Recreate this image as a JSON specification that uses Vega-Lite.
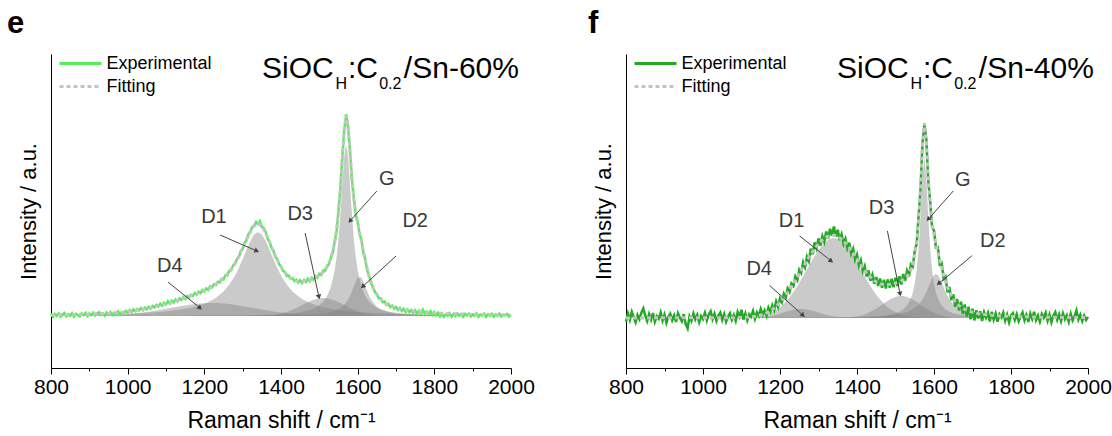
{
"$schema": "https://vega.github.io/schema/vega-lite/v6.json",
"background": "white",
"padding": {"left": 7, "top": 7, "right": 5, "bottom": 2},
"bounds": "flush",
"spacing": 115,
"config": {"font": "Liberation Sans", "view": {"stroke": null}},
"resolve": {"scale": {"color": "independent", "strokeDash": "independent"}, "legend": {"color": "independent", "strokeDash": "independent"}},
"datasets": {
"e_exp": [
{"x":800,"y":0.012},{"x":805,"y":-0.004},{"x":810,"y":0.010},{"x":815,"y":0.001},{"x":820,"y":0.013},{"x":825,"y":-0.003},{"x":830,"y":0.006},{"x":835,"y":0.015},{"x":840,"y":-0.002},{"x":845,"y":0.009},
{"x":850,"y":0.001},{"x":855,"y":0.014},{"x":860,"y":-0.003},{"x":865,"y":0.011},{"x":870,"y":0.004},{"x":875,"y":-0.002},{"x":880,"y":0.013},{"x":885,"y":0.005},{"x":890,"y":0.016},{"x":895,"y":0.000},
{"x":900,"y":0.012},{"x":905,"y":0.004},{"x":910,"y":0.017},{"x":915,"y":0.003},{"x":920,"y":0.010},{"x":925,"y":0.019},{"x":930,"y":0.005},{"x":935,"y":0.013},{"x":940,"y":0.002},{"x":945,"y":0.018},
{"x":950,"y":0.009},{"x":955,"y":0.020},{"x":960,"y":0.006},{"x":965,"y":0.016},{"x":970,"y":0.011},{"x":975,"y":0.023},{"x":980,"y":0.008},{"x":985,"y":0.019},{"x":990,"y":0.014},{"x":995,"y":0.025},
{"x":1000,"y":0.016},{"x":1005,"y":0.030},{"x":1010,"y":0.019},{"x":1015,"y":0.033},{"x":1020,"y":0.024},{"x":1025,"y":0.035},{"x":1030,"y":0.028},{"x":1035,"y":0.040},{"x":1040,"y":0.029},{"x":1045,"y":0.042},
{"x":1050,"y":0.034},{"x":1055,"y":0.046},{"x":1060,"y":0.037},{"x":1065,"y":0.050},{"x":1070,"y":0.043},{"x":1075,"y":0.056},{"x":1080,"y":0.047},{"x":1085,"y":0.061},{"x":1090,"y":0.051},{"x":1095,"y":0.066},
{"x":1100,"y":0.058},{"x":1105,"y":0.074},{"x":1110,"y":0.062},{"x":1115,"y":0.077},{"x":1120,"y":0.068},{"x":1125,"y":0.083},{"x":1130,"y":0.073},{"x":1135,"y":0.088},{"x":1140,"y":0.080},{"x":1145,"y":0.094},
{"x":1150,"y":0.085},{"x":1155,"y":0.099},{"x":1160,"y":0.093},{"x":1165,"y":0.106},{"x":1170,"y":0.100},{"x":1175,"y":0.115},{"x":1180,"y":0.107},{"x":1185,"y":0.121},{"x":1190,"y":0.114},{"x":1195,"y":0.131},
{"x":1200,"y":0.123},{"x":1205,"y":0.138},{"x":1210,"y":0.131},{"x":1215,"y":0.149},{"x":1220,"y":0.143},{"x":1225,"y":0.159},{"x":1230,"y":0.154},{"x":1235,"y":0.171},{"x":1240,"y":0.168},{"x":1245,"y":0.186},
{"x":1250,"y":0.183},{"x":1255,"y":0.204},{"x":1260,"y":0.203},{"x":1265,"y":0.226},{"x":1270,"y":0.228},{"x":1275,"y":0.253},{"x":1280,"y":0.258},{"x":1285,"y":0.285},{"x":1290,"y":0.293},{"x":1295,"y":0.324},
{"x":1300,"y":0.335},{"x":1305,"y":0.366},{"x":1310,"y":0.378},{"x":1315,"y":0.409},{"x":1320,"y":0.419},{"x":1325,"y":0.446},{"x":1330,"y":0.448},{"x":1335,"y":0.470},{"x":1340,"y":0.459},{"x":1345,"y":0.474},
{"x":1350,"y":0.446},{"x":1355,"y":0.441},{"x":1360,"y":0.420},{"x":1365,"y":0.387},{"x":1370,"y":0.372},{"x":1375,"y":0.341},{"x":1380,"y":0.328},{"x":1385,"y":0.297},{"x":1390,"y":0.285},{"x":1395,"y":0.258},
{"x":1400,"y":0.250},{"x":1405,"y":0.226},{"x":1410,"y":0.222},{"x":1415,"y":0.200},{"x":1420,"y":0.203},{"x":1425,"y":0.186},{"x":1430,"y":0.190},{"x":1435,"y":0.174},{"x":1440,"y":0.182},{"x":1445,"y":0.168},
{"x":1450,"y":0.179},{"x":1455,"y":0.165},{"x":1460,"y":0.180},{"x":1465,"y":0.170},{"x":1470,"y":0.186},{"x":1475,"y":0.174},{"x":1480,"y":0.191},{"x":1485,"y":0.181},{"x":1490,"y":0.199},{"x":1495,"y":0.191},
{"x":1500,"y":0.211},{"x":1505,"y":0.205},{"x":1510,"y":0.228},{"x":1515,"y":0.226},{"x":1520,"y":0.251},{"x":1525,"y":0.259},{"x":1530,"y":0.292},{"x":1535,"y":0.318},{"x":1540,"y":0.371},{"x":1545,"y":0.424},
{"x":1550,"y":0.526},{"x":1555,"y":0.636},{"x":1560,"y":0.797},{"x":1565,"y":0.929},{"x":1570,"y":1.008},{"x":1575,"y":0.944},{"x":1580,"y":0.826},{"x":1585,"y":0.682},{"x":1590,"y":0.591},{"x":1595,"y":0.508},
{"x":1600,"y":0.470},{"x":1605,"y":0.411},{"x":1610,"y":0.379},{"x":1615,"y":0.318},{"x":1620,"y":0.281},{"x":1625,"y":0.228},{"x":1630,"y":0.201},{"x":1635,"y":0.163},{"x":1640,"y":0.147},{"x":1645,"y":0.119},
{"x":1650,"y":0.112},{"x":1655,"y":0.088},{"x":1660,"y":0.089},{"x":1665,"y":0.069},{"x":1670,"y":0.073},{"x":1675,"y":0.055},{"x":1680,"y":0.061},{"x":1685,"y":0.044},{"x":1690,"y":0.052},{"x":1695,"y":0.036},
{"x":1700,"y":0.045},{"x":1705,"y":0.030},{"x":1710,"y":0.041},{"x":1715,"y":0.025},{"x":1720,"y":0.036},{"x":1725,"y":0.020},{"x":1730,"y":0.033},{"x":1735,"y":0.019},{"x":1740,"y":0.030},{"x":1745,"y":0.014},
{"x":1750,"y":0.028},{"x":1755,"y":0.012},{"x":1760,"y":0.026},{"x":1765,"y":0.010},{"x":1770,"y":0.031},{"x":1775,"y":0.013},{"x":1780,"y":0.022},{"x":1785,"y":0.008},{"x":1790,"y":0.024},{"x":1795,"y":0.006},
{"x":1800,"y":0.019},{"x":1805,"y":0.004},{"x":1810,"y":0.016},{"x":1815,"y":-0.002},{"x":1820,"y":0.011},{"x":1825,"y":-0.004},{"x":1830,"y":0.009},{"x":1835,"y":0.001},{"x":1840,"y":0.014},{"x":1845,"y":-0.003},
{"x":1850,"y":0.010},{"x":1855,"y":0.000},{"x":1860,"y":0.013},{"x":1865,"y":0.002},{"x":1870,"y":0.009},{"x":1875,"y":-0.004},{"x":1880,"y":0.011},{"x":1885,"y":0.003},{"x":1890,"y":0.012},{"x":1895,"y":-0.002},
{"x":1900,"y":0.008},{"x":1905,"y":0.001},{"x":1910,"y":0.013},{"x":1915,"y":-0.003},{"x":1920,"y":0.007},{"x":1925,"y":0.002},{"x":1930,"y":0.012},{"x":1935,"y":-0.004},{"x":1940,"y":0.009},{"x":1945,"y":0.001},
{"x":1950,"y":0.011},{"x":1955,"y":-0.003},{"x":1960,"y":0.008},{"x":1965,"y":0.000},{"x":1970,"y":0.012},{"x":1975,"y":-0.002},{"x":1980,"y":0.007},{"x":1985,"y":0.003},{"x":1990,"y":0.010},{"x":1995,"y":-0.003},
{"x":2000,"y":0.006}
],
"e_comp": [
{"x":800,"D4":0,"D1":0.0048,"D3":0,"G":0.0005,"D2":0.0002,"fit":0.0055},
{"x":850,"D4":0.0002,"D1":0.0058,"D3":0,"G":0.0005,"D2":0.0002,"fit":0.0067},
{"x":900,"D4":0.0009,"D1":0.0072,"D3":0,"G":0.0006,"D2":0.0003,"fit":0.009},
{"x":950,"D4":0.0032,"D1":0.0091,"D3":0,"G":0.0007,"D2":0.0003,"fit":0.0133},
{"x":1000,"D4":0.0088,"D1":0.0119,"D3":0,"G":0.0008,"D2":0.0003,"fit":0.0218},
{"x":1010,"D4":0.0105,"D1":0.0126,"D3":0,"G":0.0009,"D2":0.0004,"fit":0.0244},
{"x":1020,"D4":0.0124,"D1":0.0134,"D3":0,"G":0.0009,"D2":0.0004,"fit":0.0271},
{"x":1030,"D4":0.0146,"D1":0.0142,"D3":0,"G":0.0009,"D2":0.0004,"fit":0.0301},
{"x":1040,"D4":0.017,"D1":0.0151,"D3":0,"G":0.001,"D2":0.0004,"fit":0.0335},
{"x":1050,"D4":0.0197,"D1":0.0162,"D3":0,"G":0.001,"D2":0.0004,"fit":0.0373},
{"x":1060,"D4":0.0226,"D1":0.0173,"D3":0,"G":0.001,"D2":0.0005,"fit":0.0414},
{"x":1070,"D4":0.0257,"D1":0.0185,"D3":0,"G":0.0011,"D2":0.0005,"fit":0.0458},
{"x":1080,"D4":0.0289,"D1":0.0199,"D3":0,"G":0.0011,"D2":0.0005,"fit":0.0504},
{"x":1090,"D4":0.0323,"D1":0.0215,"D3":0,"G":0.0012,"D2":0.0005,"fit":0.0555},
{"x":1100,"D4":0.0359,"D1":0.0232,"D3":0,"G":0.0012,"D2":0.0005,"fit":0.0608},
{"x":1110,"D4":0.0394,"D1":0.0251,"D3":0,"G":0.0013,"D2":0.0006,"fit":0.0664},
{"x":1120,"D4":0.043,"D1":0.0273,"D3":0,"G":0.0014,"D2":0.0006,"fit":0.0723},
{"x":1130,"D4":0.0465,"D1":0.0298,"D3":0,"G":0.0015,"D2":0.0006,"fit":0.0784},
{"x":1140,"D4":0.0499,"D1":0.0326,"D3":0,"G":0.0016,"D2":0.0006,"fit":0.0847},
{"x":1150,"D4":0.0531,"D1":0.0358,"D3":0,"G":0.0017,"D2":0.0007,"fit":0.0913},
{"x":1160,"D4":0.056,"D1":0.0395,"D3":0,"G":0.0017,"D2":0.0007,"fit":0.0979},
{"x":1170,"D4":0.0586,"D1":0.0438,"D3":0,"G":0.0018,"D2":0.0007,"fit":0.1049},
{"x":1180,"D4":0.0608,"D1":0.0488,"D3":0,"G":0.0019,"D2":0.0007,"fit":0.1122},
{"x":1190,"D4":0.0626,"D1":0.0546,"D3":0,"G":0.0019,"D2":0.0008,"fit":0.1199},
{"x":1200,"D4":0.064,"D1":0.0615,"D3":0,"G":0.002,"D2":0.0008,"fit":0.1283},
{"x":1210,"D4":0.0647,"D1":0.0697,"D3":0,"G":0.0021,"D2":0.0008,"fit":0.1373},
{"x":1220,"D4":0.065,"D1":0.0795,"D3":0,"G":0.0023,"D2":0.0009,"fit":0.1477},
{"x":1230,"D4":0.0647,"D1":0.0914,"D3":0,"G":0.0024,"D2":0.0009,"fit":0.1594},
{"x":1240,"D4":0.064,"D1":0.106,"D3":0,"G":0.0026,"D2":0.0009,"fit":0.1735},
{"x":1250,"D4":0.0626,"D1":0.123,"D3":0,"G":0.0027,"D2":0.001,"fit":0.1893},
{"x":1260,"D4":0.0608,"D1":0.145,"D3":0,"G":0.0029,"D2":0.001,"fit":0.2097},
{"x":1270,"D4":0.0586,"D1":0.171,"D3":0,"G":0.0031,"D2":0.0011,"fit":0.2338},
{"x":1280,"D4":0.056,"D1":0.203,"D3":0,"G":0.0033,"D2":0.0011,"fit":0.2634},
{"x":1290,"D4":0.0531,"D1":0.241,"D3":0,"G":0.0035,"D2":0.0012,"fit":0.2988},
{"x":1300,"D4":0.0499,"D1":0.285,"D3":0.0001,"G":0.0038,"D2":0.0013,"fit":0.3401},
{"x":1310,"D4":0.0465,"D1":0.331,"D3":0.0001,"G":0.0041,"D2":0.0014,"fit":0.3831},
{"x":1320,"D4":0.043,"D1":0.375,"D3":0.0002,"G":0.0044,"D2":0.0015,"fit":0.4241},
{"x":1330,"D4":0.0394,"D1":0.408,"D3":0.0004,"G":0.0048,"D2":0.0016,"fit":0.4542},
{"x":1340,"D4":0.0359,"D1":0.42,"D3":0.0007,"G":0.0053,"D2":0.0018,"fit":0.4637},
{"x":1350,"D4":0.0323,"D1":0.408,"D3":0.0013,"G":0.0057,"D2":0.0019,"fit":0.4492},
{"x":1360,"D4":0.0289,"D1":0.375,"D3":0.0022,"G":0.0063,"D2":0.002,"fit":0.4144},
{"x":1370,"D4":0.0257,"D1":0.331,"D3":0.0035,"G":0.0069,"D2":0.0022,"fit":0.3693},
{"x":1380,"D4":0.0226,"D1":0.285,"D3":0.0055,"G":0.0077,"D2":0.0024,"fit":0.3232},
{"x":1390,"D4":0.0197,"D1":0.241,"D3":0.0083,"G":0.0085,"D2":0.0027,"fit":0.2802},
{"x":1400,"D4":0.017,"D1":0.203,"D3":0.0122,"G":0.0095,"D2":0.0029,"fit":0.2446},
{"x":1410,"D4":0.0146,"D1":0.171,"D3":0.0172,"G":0.0108,"D2":0.0032,"fit":0.2168},
{"x":1420,"D4":0.0124,"D1":0.145,"D3":0.0236,"G":0.0122,"D2":0.0036,"fit":0.1968},
{"x":1430,"D4":0.0105,"D1":0.123,"D3":0.0312,"G":0.014,"D2":0.004,"fit":0.1827},
{"x":1440,"D4":0.0088,"D1":0.106,"D3":0.04,"G":0.0162,"D2":0.0045,"fit":0.1755},
{"x":1450,"D4":0.0073,"D1":0.0914,"D3":0.0496,"G":0.0189,"D2":0.0051,"fit":0.1723},
{"x":1460,"D4":0.006,"D1":0.0795,"D3":0.0595,"G":0.0224,"D2":0.0058,"fit":0.1732},
{"x":1470,"D4":0.0049,"D1":0.0697,"D3":0.0691,"G":0.027,"D2":0.0066,"fit":0.1773},
{"x":1480,"D4":0.004,"D1":0.0615,"D3":0.0776,"G":0.0331,"D2":0.0077,"fit":0.1839},
{"x":1490,"D4":0.0032,"D1":0.0546,"D3":0.0842,"G":0.0414,"D2":0.009,"fit":0.1924},
{"x":1500,"D4":0.0025,"D1":0.0488,"D3":0.0885,"G":0.0533,"D2":0.0107,"fit":0.2038},
{"x":1510,"D4":0.002,"D1":0.0438,"D3":0.09,"G":0.071,"D2":0.013,"fit":0.2198},
{"x":1520,"D4":0.0016,"D1":0.0395,"D3":0.0885,"G":0.0986,"D2":0.0159,"fit":0.2441},
{"x":1530,"D4":0.0012,"D1":0.0358,"D3":0.0842,"G":0.145,"D2":0.02,"fit":0.2862},
{"x":1540,"D4":0.0009,"D1":0.0326,"D3":0.0776,"G":0.228,"D2":0.0258,"fit":0.3649},
{"x":1545,"D4":0.0008,"D1":0.0312,"D3":0.0735,"G":0.294,"D2":0.0296,"fit":0.4291},
{"x":1550,"D4":0.0007,"D1":0.0298,"D3":0.0691,"G":0.385,"D2":0.0342,"fit":0.5188},
{"x":1555,"D4":0.0006,"D1":0.0285,"D3":0.0644,"G":0.508,"D2":0.04,"fit":0.6415},
{"x":1560,"D4":0.0005,"D1":0.0273,"D3":0.0595,"G":0.657,"D2":0.0472,"fit":0.7915},
{"x":1565,"D4":0.0005,"D1":0.0262,"D3":0.0546,"G":0.798,"D2":0.0562,"fit":0.9355},
{"x":1570,"D4":0.0004,"D1":0.0251,"D3":0.0496,"G":0.86,"D2":0.0676,"fit":1.0027},
{"x":1575,"D4":0.0004,"D1":0.0241,"D3":0.0448,"G":0.798,"D2":0.082,"fit":0.9493},
{"x":1580,"D4":0.0003,"D1":0.0232,"D3":0.04,"G":0.657,"D2":0.1,"fit":0.8205},
{"x":1585,"D4":0.0003,"D1":0.0223,"D3":0.0355,"G":0.508,"D2":0.122,"fit":0.6881},
{"x":1590,"D4":0.0003,"D1":0.0215,"D3":0.0312,"G":0.385,"D2":0.147,"fit":0.585},
{"x":1595,"D4":0.0002,"D1":0.0207,"D3":0.0273,"G":0.294,"D2":0.172,"fit":0.5142},
{"x":1600,"D4":0.0002,"D1":0.0199,"D3":0.0236,"G":0.228,"D2":0.192,"fit":0.4637},
{"x":1610,"D4":0.0001,"D1":0.0185,"D3":0.0172,"G":0.145,"D2":0.192,"fit":0.3728},
{"x":1620,"D4":0.0001,"D1":0.0173,"D3":0.0122,"G":0.0986,"D2":0.147,"fit":0.2752},
{"x":1630,"D4":0,"D1":0.0162,"D3":0.0083,"G":0.071,"D2":0.1,"fit":0.1955},
{"x":1640,"D4":0,"D1":0.0151,"D3":0.0055,"G":0.0533,"D2":0.0676,"fit":0.1415},
{"x":1650,"D4":0,"D1":0.0142,"D3":0.0035,"G":0.0414,"D2":0.0472,"fit":0.1063},
{"x":1660,"D4":0,"D1":0.0134,"D3":0.0022,"G":0.0331,"D2":0.0342,"fit":0.0829},
{"x":1670,"D4":0,"D1":0.0126,"D3":0.0013,"G":0.027,"D2":0.0258,"fit":0.0667},
{"x":1680,"D4":0,"D1":0.0119,"D3":0.0007,"G":0.0224,"D2":0.02,"fit":0.055},
{"x":1690,"D4":0,"D1":0.0112,"D3":0.0004,"G":0.0189,"D2":0.0159,"fit":0.0464},
{"x":1700,"D4":0,"D1":0.0106,"D3":0,"G":0.0162,"D2":0.013,"fit":0.0398},
{"x":1710,"D4":0,"D1":0.0101,"D3":0,"G":0.014,"D2":0.0107,"fit":0.0348},
{"x":1720,"D4":0,"D1":0.0096,"D3":0,"G":0.0122,"D2":0.009,"fit":0.0308},
{"x":1730,"D4":0,"D1":0.0091,"D3":0,"G":0.0108,"D2":0.0077,"fit":0.0276},
{"x":1740,"D4":0,"D1":0.0086,"D3":0,"G":0.0095,"D2":0.0066,"fit":0.0247},
{"x":1750,"D4":0,"D1":0.0082,"D3":0,"G":0.0085,"D2":0.0058,"fit":0.0225},
{"x":1760,"D4":0,"D1":0.0078,"D3":0,"G":0.0077,"D2":0.0051,"fit":0.0206},
{"x":1770,"D4":0,"D1":0.0075,"D3":0,"G":0.0069,"D2":0.0045,"fit":0.0189},
{"x":1780,"D4":0,"D1":0.0072,"D3":0,"G":0.0063,"D2":0.004,"fit":0.0175},
{"x":1790,"D4":0,"D1":0.0069,"D3":0,"G":0.0057,"D2":0.0036,"fit":0.0162},
{"x":1800,"D4":0,"D1":0.0066,"D3":0,"G":0.0053,"D2":0.0032,"fit":0.0151},
{"x":1850,"D4":0,"D1":0.0054,"D3":0,"G":0.0036,"D2":0.0021,"fit":0.0111},
{"x":1900,"D4":0,"D1":0.0045,"D3":0,"G":0.0026,"D2":0.0014,"fit":0.0085},
{"x":1950,"D4":0,"D1":0.0038,"D3":0,"G":0.0019,"D2":0.001,"fit":0.0067},
{"x":2000,"D4":0,"D1":0.0032,"D3":0,"G":0.0015,"D2":0.0008,"fit":0.0055}
],
"f_exp": [
{"x":800,"y":-0.018},{"x":805,"y":0.022},{"x":810,"y":-0.010},{"x":815,"y":0.031},{"x":820,"y":0.004},{"x":825,"y":-0.022},{"x":830,"y":0.015},{"x":835,"y":-0.006},{"x":840,"y":0.027},{"x":845,"y":0.048},
{"x":850,"y":0.012},{"x":855,"y":-0.015},{"x":860,"y":0.020},{"x":865,"y":-0.008},{"x":870,"y":0.025},{"x":875,"y":-0.019},{"x":880,"y":0.009},{"x":885,"y":-0.004},{"x":890,"y":0.028},{"x":895,"y":-0.013},
{"x":900,"y":0.017},{"x":905,"y":-0.024},{"x":910,"y":0.006},{"x":915,"y":0.021},{"x":920,"y":-0.011},{"x":925,"y":0.013},{"x":930,"y":-0.020},{"x":935,"y":0.024},{"x":940,"y":0.001},{"x":945,"y":-0.016},
{"x":950,"y":0.019},{"x":955,"y":-0.030},{"x":960,"y":-0.052},{"x":965,"y":0.008},{"x":970,"y":-0.014},{"x":975,"y":0.022},{"x":980,"y":-0.007},{"x":985,"y":0.016},{"x":990,"y":-0.021},{"x":995,"y":0.010},
{"x":1000,"y":-0.005},{"x":1005,"y":0.026},{"x":1010,"y":-0.012},{"x":1015,"y":0.018},{"x":1020,"y":0.034},{"x":1025,"y":-0.006},{"x":1030,"y":0.021},{"x":1035,"y":-0.015},{"x":1040,"y":0.012},{"x":1045,"y":0.027},
{"x":1050,"y":-0.010},{"x":1055,"y":0.019},{"x":1060,"y":-0.018},{"x":1065,"y":0.008},{"x":1070,"y":0.024},{"x":1075,"y":-0.009},{"x":1080,"y":0.015},{"x":1085,"y":-0.014},{"x":1090,"y":0.030},{"x":1095,"y":0.005},
{"x":1100,"y":0.041},{"x":1105,"y":-0.008},{"x":1110,"y":0.022},{"x":1115,"y":-0.012},{"x":1120,"y":0.018},{"x":1125,"y":0.006},{"x":1130,"y":0.035},{"x":1135,"y":-0.004},{"x":1140,"y":0.028},{"x":1145,"y":0.011},
{"x":1150,"y":0.045},{"x":1155,"y":0.016},{"x":1160,"y":0.038},{"x":1165,"y":0.012},{"x":1170,"y":0.052},{"x":1175,"y":0.031},{"x":1180,"y":0.064},{"x":1185,"y":0.040},{"x":1190,"y":0.083},{"x":1195,"y":0.056},
{"x":1200,"y":0.098},{"x":1205,"y":0.079},{"x":1210,"y":0.121},{"x":1215,"y":0.102},{"x":1220,"y":0.148},{"x":1225,"y":0.131},{"x":1230,"y":0.172},{"x":1235,"y":0.160},{"x":1240,"y":0.208},{"x":1245,"y":0.190},
{"x":1250,"y":0.241},{"x":1255,"y":0.225},{"x":1260,"y":0.279},{"x":1265,"y":0.254},{"x":1270,"y":0.306},{"x":1275,"y":0.284},{"x":1280,"y":0.347},{"x":1285,"y":0.318},{"x":1290,"y":0.378},{"x":1295,"y":0.349},
{"x":1300,"y":0.398},{"x":1305,"y":0.362},{"x":1310,"y":0.409},{"x":1315,"y":0.381},{"x":1320,"y":0.432},{"x":1325,"y":0.398},{"x":1330,"y":0.446},{"x":1335,"y":0.412},{"x":1340,"y":0.458},{"x":1345,"y":0.407},
{"x":1350,"y":0.441},{"x":1355,"y":0.389},{"x":1360,"y":0.418},{"x":1365,"y":0.371},{"x":1370,"y":0.396},{"x":1375,"y":0.349},{"x":1380,"y":0.377},{"x":1385,"y":0.322},{"x":1390,"y":0.346},{"x":1395,"y":0.292},
{"x":1400,"y":0.317},{"x":1405,"y":0.262},{"x":1410,"y":0.289},{"x":1415,"y":0.234},{"x":1420,"y":0.259},{"x":1425,"y":0.207},{"x":1430,"y":0.238},{"x":1435,"y":0.186},{"x":1440,"y":0.216},{"x":1445,"y":0.171},
{"x":1450,"y":0.205},{"x":1455,"y":0.160},{"x":1460,"y":0.197},{"x":1465,"y":0.151},{"x":1470,"y":0.191},{"x":1475,"y":0.148},{"x":1480,"y":0.193},{"x":1485,"y":0.152},{"x":1490,"y":0.196},{"x":1495,"y":0.154},
{"x":1500,"y":0.201},{"x":1505,"y":0.160},{"x":1510,"y":0.209},{"x":1515,"y":0.168},{"x":1520,"y":0.220},{"x":1525,"y":0.185},{"x":1530,"y":0.236},{"x":1535,"y":0.208},{"x":1540,"y":0.268},{"x":1545,"y":0.258},
{"x":1550,"y":0.335},{"x":1555,"y":0.370},{"x":1560,"y":0.508},{"x":1565,"y":0.642},{"x":1570,"y":0.870},{"x":1575,"y":0.968},{"x":1580,"y":0.895},{"x":1585,"y":0.690},{"x":1590,"y":0.583},{"x":1595,"y":0.455},
{"x":1600,"y":0.437},{"x":1605,"y":0.352},{"x":1610,"y":0.354},{"x":1615,"y":0.268},{"x":1620,"y":0.275},{"x":1625,"y":0.195},{"x":1630,"y":0.206},{"x":1635,"y":0.128},{"x":1640,"y":0.155},{"x":1645,"y":0.089},
{"x":1650,"y":0.118},{"x":1655,"y":0.056},{"x":1660,"y":0.095},{"x":1665,"y":0.038},{"x":1670,"y":0.081},{"x":1675,"y":0.020},{"x":1680,"y":0.068},{"x":1685,"y":0.008},{"x":1690,"y":0.056},{"x":1695,"y":-0.006},
{"x":1700,"y":0.047},{"x":1705,"y":-0.012},{"x":1710,"y":0.039},{"x":1715,"y":-0.002},{"x":1720,"y":0.034},{"x":1725,"y":-0.015},{"x":1730,"y":0.029},{"x":1735,"y":0.002},{"x":1740,"y":0.026},{"x":1745,"y":-0.017},
{"x":1750,"y":0.031},{"x":1755,"y":-0.008},{"x":1760,"y":0.022},{"x":1765,"y":-0.019},{"x":1770,"y":0.018},{"x":1775,"y":0.003},{"x":1780,"y":0.027},{"x":1785,"y":-0.014},{"x":1790,"y":0.016},{"x":1795,"y":-0.022},
{"x":1800,"y":0.012},{"x":1805,"y":0.024},{"x":1810,"y":-0.010},{"x":1815,"y":0.019},{"x":1820,"y":-0.016},{"x":1825,"y":0.008},{"x":1830,"y":0.028},{"x":1835,"y":-0.012},{"x":1840,"y":0.015},{"x":1845,"y":-0.020},
{"x":1850,"y":0.022},{"x":1855,"y":-0.004},{"x":1860,"y":0.031},{"x":1865,"y":-0.011},{"x":1870,"y":0.013},{"x":1875,"y":-0.018},{"x":1880,"y":0.020},{"x":1885,"y":0.001},{"x":1890,"y":0.026},{"x":1895,"y":-0.014},
{"x":1900,"y":0.017},{"x":1905,"y":-0.021},{"x":1910,"y":0.011},{"x":1915,"y":0.029},{"x":1920,"y":-0.009},{"x":1925,"y":0.018},{"x":1930,"y":-0.016},{"x":1935,"y":0.023},{"x":1940,"y":-0.006},{"x":1945,"y":0.014},
{"x":1950,"y":-0.019},{"x":1955,"y":0.021},{"x":1960,"y":-0.012},{"x":1965,"y":0.009},{"x":1970,"y":0.038},{"x":1975,"y":-0.008},{"x":1980,"y":0.016},{"x":1985,"y":-0.015},{"x":1990,"y":0.012},{"x":1995,"y":-0.010},
{"x":2000,"y":0.006}
],
"f_comp": [
{"x":800,"D4":0,"D1":0,"D3":0,"G":0.0002,"D2":0.0003,"fit":0.0005},
{"x":850,"D4":0,"D1":0,"D3":0,"G":0.0003,"D2":0.0003,"fit":0.0006},
{"x":900,"D4":0,"D1":0,"D3":0,"G":0.0003,"D2":0.0004,"fit":0.0007},
{"x":950,"D4":0,"D1":0,"D3":0,"G":0.0003,"D2":0.0004,"fit":0.0007},
{"x":1000,"D4":0,"D1":0,"D3":0,"G":0.0004,"D2":0.0005,"fit":0.0009},
{"x":1050,"D4":0,"D1":0.0001,"D3":0,"G":0.0005,"D2":0.0006,"fit":0.0012},
{"x":1080,"D4":0,"D1":0.0004,"D3":0,"G":0.0005,"D2":0.0007,"fit":0.0016},
{"x":1090,"D4":0,"D1":0.0007,"D3":0,"G":0.0006,"D2":0.0007,"fit":0.002},
{"x":1100,"D4":0.0001,"D1":0.0011,"D3":0,"G":0.0006,"D2":0.0008,"fit":0.0026},
{"x":1110,"D4":0.0002,"D1":0.0018,"D3":0,"G":0.0006,"D2":0.0008,"fit":0.0034},
{"x":1120,"D4":0.0005,"D1":0.0029,"D3":0,"G":0.0007,"D2":0.0008,"fit":0.0049},
{"x":1130,"D4":0.001,"D1":0.0044,"D3":0,"G":0.0007,"D2":0.0009,"fit":0.007},
{"x":1140,"D4":0.0017,"D1":0.0067,"D3":0,"G":0.0007,"D2":0.0009,"fit":0.01},
{"x":1150,"D4":0.003,"D1":0.01,"D3":0,"G":0.0008,"D2":0.0009,"fit":0.0147},
{"x":1160,"D4":0.0049,"D1":0.0147,"D3":0,"G":0.0008,"D2":0.001,"fit":0.0214},
{"x":1170,"D4":0.0076,"D1":0.021,"D3":0,"G":0.0009,"D2":0.001,"fit":0.0305},
{"x":1180,"D4":0.0112,"D1":0.0294,"D3":0,"G":0.0009,"D2":0.0011,"fit":0.0426},
{"x":1190,"D4":0.0159,"D1":0.0403,"D3":0,"G":0.001,"D2":0.0011,"fit":0.0583},
{"x":1200,"D4":0.0213,"D1":0.0541,"D3":0,"G":0.001,"D2":0.0012,"fit":0.0776},
{"x":1210,"D4":0.0273,"D1":0.0713,"D3":0,"G":0.001,"D2":0.0013,"fit":0.1009},
{"x":1220,"D4":0.0333,"D1":0.092,"D3":0,"G":0.0011,"D2":0.0013,"fit":0.1277},
{"x":1230,"D4":0.0386,"D1":0.1164,"D3":0,"G":0.0011,"D2":0.0014,"fit":0.1575},
{"x":1240,"D4":0.0426,"D1":0.1442,"D3":0,"G":0.0012,"D2":0.0015,"fit":0.1895},
{"x":1250,"D4":0.0447,"D1":0.175,"D3":0,"G":0.0013,"D2":0.0016,"fit":0.2226},
{"x":1260,"D4":0.0447,"D1":0.2082,"D3":0,"G":0.0014,"D2":0.0017,"fit":0.256},
{"x":1270,"D4":0.0426,"D1":0.2426,"D3":0,"G":0.0015,"D2":0.0018,"fit":0.2885},
{"x":1280,"D4":0.0386,"D1":0.277,"D3":0,"G":0.0016,"D2":0.0019,"fit":0.3191},
{"x":1290,"D4":0.0333,"D1":0.3099,"D3":0,"G":0.0017,"D2":0.002,"fit":0.3469},
{"x":1300,"D4":0.0273,"D1":0.3397,"D3":0,"G":0.0018,"D2":0.0021,"fit":0.3709},
{"x":1310,"D4":0.0213,"D1":0.3649,"D3":0,"G":0.0019,"D2":0.0022,"fit":0.3903},
{"x":1320,"D4":0.0159,"D1":0.384,"D3":0,"G":0.0021,"D2":0.0024,"fit":0.4044},
{"x":1330,"D4":0.0112,"D1":0.3959,"D3":0.0001,"G":0.0023,"D2":0.0026,"fit":0.4121},
{"x":1340,"D4":0.0076,"D1":0.4,"D3":0.0002,"G":0.0025,"D2":0.0028,"fit":0.4131},
{"x":1350,"D4":0.0049,"D1":0.3959,"D3":0.0005,"G":0.0027,"D2":0.003,"fit":0.407},
{"x":1360,"D4":0.003,"D1":0.384,"D3":0.0009,"G":0.003,"D2":0.0032,"fit":0.3941},
{"x":1370,"D4":0.0017,"D1":0.3649,"D3":0.0016,"G":0.0032,"D2":0.0035,"fit":0.3749},
{"x":1380,"D4":0.001,"D1":0.3397,"D3":0.0029,"G":0.0036,"D2":0.0038,"fit":0.351},
{"x":1390,"D4":0.0005,"D1":0.3099,"D3":0.0048,"G":0.004,"D2":0.0042,"fit":0.3234},
{"x":1400,"D4":0.0002,"D1":0.277,"D3":0.0078,"G":0.0044,"D2":0.0046,"fit":0.294},
{"x":1410,"D4":0.0001,"D1":0.2426,"D3":0.0121,"G":0.005,"D2":0.0051,"fit":0.2649},
{"x":1420,"D4":0,"D1":0.2082,"D3":0.0181,"G":0.0057,"D2":0.0056,"fit":0.2376},
{"x":1430,"D4":0,"D1":0.175,"D3":0.0259,"G":0.0065,"D2":0.0063,"fit":0.2137},
{"x":1440,"D4":0,"D1":0.1442,"D3":0.0357,"G":0.0074,"D2":0.007,"fit":0.1943},
{"x":1450,"D4":0,"D1":0.1164,"D3":0.0473,"G":0.0087,"D2":0.0079,"fit":0.1803},
{"x":1460,"D4":0,"D1":0.092,"D3":0.0601,"G":0.0102,"D2":0.009,"fit":0.1713},
{"x":1470,"D4":0,"D1":0.0713,"D3":0.0734,"G":0.0122,"D2":0.0104,"fit":0.1673},
{"x":1480,"D4":0,"D1":0.0541,"D3":0.0861,"G":0.0149,"D2":0.012,"fit":0.1671},
{"x":1490,"D4":0,"D1":0.0403,"D3":0.0971,"G":0.0185,"D2":0.014,"fit":0.1699},
{"x":1500,"D4":0,"D1":0.0294,"D3":0.1052,"G":0.0236,"D2":0.0166,"fit":0.1748},
{"x":1510,"D4":0,"D1":0.021,"D3":0.1095,"G":0.0312,"D2":0.0199,"fit":0.1816},
{"x":1520,"D4":0,"D1":0.0147,"D3":0.1095,"G":0.0429,"D2":0.0244,"fit":0.1915},
{"x":1530,"D4":0,"D1":0.01,"D3":0.1052,"G":0.0624,"D2":0.0303,"fit":0.2079},
{"x":1540,"D4":0,"D1":0.0067,"D3":0.0971,"G":0.0982,"D2":0.0386,"fit":0.2406},
{"x":1545,"D4":0,"D1":0.0055,"D3":0.0919,"G":0.1281,"D2":0.044,"fit":0.2695},
{"x":1550,"D4":0,"D1":0.0044,"D3":0.0861,"G":0.1724,"D2":0.0504,"fit":0.3133},
{"x":1555,"D4":0,"D1":0.0036,"D3":0.0799,"G":0.2406,"D2":0.0582,"fit":0.3823},
{"x":1560,"D4":0,"D1":0.0029,"D3":0.0734,"G":0.3475,"D2":0.0677,"fit":0.4915},
{"x":1565,"D4":0,"D1":0.0023,"D3":0.0667,"G":0.5088,"D2":0.0792,"fit":0.657},
{"x":1570,"D4":0,"D1":0.0018,"D3":0.0601,"G":0.7056,"D2":0.0932,"fit":0.8607},
{"x":1575,"D4":0,"D1":0.0014,"D3":0.0535,"G":0.81,"D2":0.11,"fit":0.9749},
{"x":1580,"D4":0,"D1":0.0011,"D3":0.0473,"G":0.7056,"D2":0.1299,"fit":0.8839},
{"x":1585,"D4":0,"D1":0.0009,"D3":0.0413,"G":0.5088,"D2":0.1523,"fit":0.7033},
{"x":1590,"D4":0,"D1":0.0007,"D3":0.0357,"G":0.3475,"D2":0.176,"fit":0.5599},
{"x":1595,"D4":0,"D1":0.0005,"D3":0.0306,"G":0.2406,"D2":0.198,"fit":0.4697},
{"x":1600,"D4":0,"D1":0.0004,"D3":0.0259,"G":0.1724,"D2":0.214,"fit":0.4127},
{"x":1605,"D4":0,"D1":0.0003,"D3":0.0218,"G":0.1281,"D2":0.22,"fit":0.3702},
{"x":1610,"D4":0,"D1":0.0002,"D3":0.0181,"G":0.0982,"D2":0.214,"fit":0.3305},
{"x":1615,"D4":0,"D1":0.0002,"D3":0.0149,"G":0.0774,"D2":0.198,"fit":0.2905},
{"x":1620,"D4":0,"D1":0.0001,"D3":0.0121,"G":0.0624,"D2":0.176,"fit":0.2506},
{"x":1630,"D4":0,"D1":0,"D3":0.0078,"G":0.0429,"D2":0.1299,"fit":0.1806},
{"x":1640,"D4":0,"D1":0,"D3":0.0048,"G":0.0312,"D2":0.0932,"fit":0.1292},
{"x":1650,"D4":0,"D1":0,"D3":0.0029,"G":0.0236,"D2":0.0677,"fit":0.0942},
{"x":1660,"D4":0,"D1":0,"D3":0.0016,"G":0.0185,"D2":0.0504,"fit":0.0705},
{"x":1670,"D4":0,"D1":0,"D3":0.0009,"G":0.0149,"D2":0.0386,"fit":0.0544},
{"x":1680,"D4":0,"D1":0,"D3":0.0005,"G":0.0122,"D2":0.0303,"fit":0.043},
{"x":1690,"D4":0,"D1":0,"D3":0.0002,"G":0.0102,"D2":0.0244,"fit":0.0348},
{"x":1700,"D4":0,"D1":0,"D3":0,"G":0.0087,"D2":0.0199,"fit":0.0286},
{"x":1710,"D4":0,"D1":0,"D3":0,"G":0.0074,"D2":0.0166,"fit":0.024},
{"x":1720,"D4":0,"D1":0,"D3":0,"G":0.0065,"D2":0.014,"fit":0.0205},
{"x":1730,"D4":0,"D1":0,"D3":0,"G":0.0057,"D2":0.012,"fit":0.0177},
{"x":1740,"D4":0,"D1":0,"D3":0,"G":0.005,"D2":0.0104,"fit":0.0154},
{"x":1750,"D4":0,"D1":0,"D3":0,"G":0.0044,"D2":0.009,"fit":0.0134},
{"x":1760,"D4":0,"D1":0,"D3":0,"G":0.004,"D2":0.0079,"fit":0.0119},
{"x":1770,"D4":0,"D1":0,"D3":0,"G":0.0036,"D2":0.007,"fit":0.0106},
{"x":1780,"D4":0,"D1":0,"D3":0,"G":0.0032,"D2":0.0063,"fit":0.0095},
{"x":1790,"D4":0,"D1":0,"D3":0,"G":0.003,"D2":0.0056,"fit":0.0086},
{"x":1800,"D4":0,"D1":0,"D3":0,"G":0.0027,"D2":0.0051,"fit":0.0078},
{"x":1850,"D4":0,"D1":0,"D3":0,"G":0.0018,"D2":0.0032,"fit":0.005},
{"x":1900,"D4":0,"D1":0,"D3":0,"G":0.0013,"D2":0.0022,"fit":0.0035},
{"x":1950,"D4":0,"D1":0,"D3":0,"G":0.001,"D2":0.0016,"fit":0.0026},
{"x":2000,"D4":0,"D1":0,"D3":0,"G":0.0008,"D2":0.0013,"fit":0.0021}
],
"e_lab": [
{"t":"D4","x":1110,"y":0.25},{"t":"D1","x":1225,"y":0.495},{"t":"D3","x":1450,"y":0.51},{"t":"G","x":1676,"y":0.685},{"t":"D2","x":1750,"y":0.475}
],
"e_arr": [
{"t":"D4","x":1105,"y":0.17,"xe":1189,"ye":0.04,"angle":129},
{"t":"D1","x":1241,"y":0.405,"xe":1337,"ye":0.325,"angle":113},
{"t":"D3","x":1463,"y":0.415,"xe":1499,"ye":0.095,"angle":168},
{"t":"G","x":1650,"y":0.625,"xe":1580,"ye":0.475,"angle":222},
{"t":"D2","x":1700,"y":0.30,"xe":1613,"ye":0.147,"angle":227}
],
"e_ttl": [
{"t":"SiOC","part":"main","x":1350.4,"y":1.19},
{"t":"H","part":"sub","x":1542.1,"y":1.135},
{"t":":C","part":"main","x":1574.8,"y":1.19},
{"t":"0.2","part":"sub","x":1656,"y":1.135},
{"t":"/Sn-60%","part":"main","x":1720.5,"y":1.19}
],
"f_lab": [
{"t":"D4","x":1146,"y":0.245},{"t":"D1","x":1230,"y":0.485},{"t":"D3","x":1464,"y":0.55},{"t":"G","x":1675,"y":0.69},{"t":"D2","x":1753,"y":0.385}
],
"f_arr": [
{"t":"D4","x":1173,"y":0.1625,"xe":1260,"ye":0.013,"angle":132},
{"t":"D1","x":1251,"y":0.41,"xe":1333,"ye":0.285,"angle":128},
{"t":"D3","x":1479,"y":0.435,"xe":1512,"ye":0.12,"angle":169},
{"t":"G","x":1650,"y":0.635,"xe":1585,"ye":0.4935,"angle":222},
{"t":"D2","x":1699,"y":0.312,"xe":1612,"ye":0.1715,"angle":230}
],
"f_ttl": [
{"t":"SiOC","part":"main","x":1348.1,"y":1.2},
{"t":"H","part":"sub","x":1539,"y":1.145},
{"t":":C","part":"main","x":1571.4,"y":1.2},
{"t":"0.2","part":"sub","x":1652.5,"y":1.145},
{"t":"/Sn-40%","part":"main","x":1716.5,"y":1.2}
]
},
"hconcat": [
{
"width": 460, "height": 314,
"title": {"text": "e", "anchor": "start", "frame": "group", "dx": -44, "offset": 12, "fontSize": 31, "fontWeight": "bold", "color": "#000", "font": "Liberation Sans"},
"encoding": {
"x": {"field": "x", "type": "quantitative", "scale": {"domain": [800, 2000], "nice": false, "zero": false},
 "axis": {"title": "Raman shift / cm⁻¹", "values": [800,900,1000,1100,1200,1300,1400,1500,1600,1700,1800,1900,2000], "format": "d", "labelExpr": "datum.value % 200 === 0 ? datum.label : ''", "tickSize": {"condition": {"test": "datum.value % 200 === 0", "value": 6}, "value": 3}, "grid": false, "domainColor": "#000", "tickColor": "#000", "labelColor": "#000", "titleColor": "#000", "labelFontSize": 21, "titleFontSize": 23, "titleFontWeight": "normal", "labelPadding": 2, "titlePadding": 12, "labelFlush": false, "labelOverlap": false, "labelFont": "Liberation Sans", "titleFont": "Liberation Sans"}},
"y": {"field": "y", "type": "quantitative", "scale": {"domain": [-0.26, 1.31], "nice": false, "zero": false},
 "axis": {"title": "Intensity / a.u.", "labels": false, "ticks": false, "grid": false, "domainColor": "#000", "titleColor": "#000", "titleFontSize": 22, "titleFontWeight": "normal", "titlePadding": 11, "titleFont": "Liberation Sans"}}
},
"layer": [
{"data": {"name": "e_comp"}, "transform": [{"fold": ["D4", "D1", "D3", "G", "D2"], "as": ["peak", "y"]}],
 "mark": {"type": "area", "fill": "#808080", "fillOpacity": 0.42, "strokeWidth": 0},
 "encoding": {"y": {"field": "y", "type": "quantitative", "stack": null, "scale": {"domain": [-0.26, 1.31], "nice": false, "zero": false}}, "y2": {"datum": 0}, "detail": {"field": "peak", "type": "nominal"}}},
{"data": {"name": "e_exp"}, "mark": {"type": "line", "strokeWidth": 2.5},
 "encoding": {"color": {"datum": "Experimental", "scale": {"domain": ["Experimental", "Fitting"], "range": ["#55ee55", "#c4c4c4"]}, "legend": {"orient": "none", "legendX": 17.5, "legendY": -2.5, "title": null, "symbolType": "M-2,0H2", "symbolSize": 441, "symbolStrokeWidth": 3, "labelFontSize": 18, "labelFont": "Liberation Sans", "labelColor": "#000", "rowPadding": 2, "labelOffset": 14, "padding": 0}},
  "strokeDash": {"datum": "Experimental", "scale": {"domain": ["Experimental", "Fitting"], "range": [[1, 0], [4, 3]]}, "legend": {"orient": "none", "legendX": 17.5, "legendY": -2.5, "title": null, "symbolType": "M-2,0H2", "symbolSize": 441, "symbolStrokeWidth": 3, "labelFontSize": 18, "labelFont": "Liberation Sans", "labelColor": "#000", "rowPadding": 2, "labelOffset": 14, "padding": 0}}}},
{"data": {"name": "e_comp"}, "transform": [{"fold": ["fit"], "as": ["k", "y"]}], "mark": {"type": "line", "strokeWidth": 3},
 "encoding": {"color": {"datum": "Fitting"}, "strokeDash": {"datum": "Fitting"}}},
{"data": {"name": "e_arr"}, "mark": {"type": "rule", "color": "#444", "strokeWidth": 1},
 "encoding": {"x2": {"field": "xe"}, "y2": {"field": "ye"}}},
{"data": {"name": "e_arr"}, "mark": {"type": "point", "shape": "triangle-up", "filled": true, "size": 30, "color": "#444", "opacity": 1},
 "encoding": {"x": {"field": "xe", "type": "quantitative"}, "y": {"field": "ye", "type": "quantitative"}, "angle": {"field": "angle", "type": "quantitative", "scale": null}}},
{"data": {"name": "e_lab"}, "mark": {"type": "text", "fontSize": 20, "color": "#3a3a3a", "align": "center", "baseline": "middle", "font": "Liberation Sans"},
 "encoding": {"text": {"field": "t"}}},
{"data": {"name": "e_ttl"}, "transform": [{"filter": "datum.part === 'main'"}], "mark": {"type": "text", "fontSize": 30, "color": "#000", "align": "left", "baseline": "alphabetic", "font": "Liberation Sans"},
 "encoding": {"text": {"field": "t"}}},
{"data": {"name": "e_ttl"}, "transform": [{"filter": "datum.part === 'sub'"}], "mark": {"type": "text", "fontSize": 16, "color": "#000", "align": "left", "baseline": "alphabetic", "font": "Liberation Sans"},
 "encoding": {"text": {"field": "t"}}}
]
},
{
"width": 462, "height": 314,
"title": {"text": "f", "anchor": "start", "frame": "group", "dx": -38, "offset": 12, "fontSize": 31, "fontWeight": "bold", "color": "#000", "font": "Liberation Sans"},
"encoding": {
"x": {"field": "x", "type": "quantitative", "scale": {"domain": [800, 2000], "nice": false, "zero": false},
 "axis": {"title": "Raman shift / cm⁻¹", "values": [800,900,1000,1100,1200,1300,1400,1500,1600,1700,1800,1900,2000], "format": "d", "labelExpr": "datum.value % 200 === 0 ? datum.label : ''", "tickSize": {"condition": {"test": "datum.value % 200 === 0", "value": 6}, "value": 3}, "grid": false, "domainColor": "#000", "tickColor": "#000", "labelColor": "#000", "titleColor": "#000", "labelFontSize": 21, "titleFontSize": 23, "titleFontWeight": "normal", "labelPadding": 2, "titlePadding": 12, "labelFlush": false, "labelOverlap": false, "labelFont": "Liberation Sans", "titleFont": "Liberation Sans"}},
"y": {"field": "y", "type": "quantitative", "scale": {"domain": [-0.25, 1.32], "nice": false, "zero": false},
 "axis": {"title": "Intensity / a.u.", "labels": false, "ticks": false, "grid": false, "domainColor": "#000", "titleColor": "#000", "titleFontSize": 22, "titleFontWeight": "normal", "titlePadding": 11, "titleFont": "Liberation Sans"}}
},
"layer": [
{"data": {"name": "f_comp"}, "transform": [{"fold": ["D4", "D1", "D3", "G", "D2"], "as": ["peak", "y"]}],
 "mark": {"type": "area", "fill": "#808080", "fillOpacity": 0.42, "strokeWidth": 0},
 "encoding": {"y": {"field": "y", "type": "quantitative", "stack": null, "scale": {"domain": [-0.25, 1.32], "nice": false, "zero": false}}, "y2": {"datum": 0}, "detail": {"field": "peak", "type": "nominal"}}},
{"data": {"name": "f_exp"}, "mark": {"type": "line", "strokeWidth": 2.5},
 "encoding": {"color": {"datum": "Experimental", "scale": {"domain": ["Experimental", "Fitting"], "range": ["#22aa22", "#c4c4c4"]}, "legend": {"orient": "none", "legendX": 17.5, "legendY": -2.5, "title": null, "symbolType": "M-2,0H2", "symbolSize": 441, "symbolStrokeWidth": 3, "labelFontSize": 18, "labelFont": "Liberation Sans", "labelColor": "#000", "rowPadding": 2, "labelOffset": 14, "padding": 0}},
  "strokeDash": {"datum": "Experimental", "scale": {"domain": ["Experimental", "Fitting"], "range": [[1, 0], [4, 3]]}, "legend": {"orient": "none", "legendX": 17.5, "legendY": -2.5, "title": null, "symbolType": "M-2,0H2", "symbolSize": 441, "symbolStrokeWidth": 3, "labelFontSize": 18, "labelFont": "Liberation Sans", "labelColor": "#000", "rowPadding": 2, "labelOffset": 14, "padding": 0}}}},
{"data": {"name": "f_comp"}, "transform": [{"fold": ["fit"], "as": ["k", "y"]}], "mark": {"type": "line", "strokeWidth": 3},
 "encoding": {"color": {"datum": "Fitting"}, "strokeDash": {"datum": "Fitting"}}},
{"data": {"name": "f_arr"}, "mark": {"type": "rule", "color": "#444", "strokeWidth": 1},
 "encoding": {"x2": {"field": "xe"}, "y2": {"field": "ye"}}},
{"data": {"name": "f_arr"}, "mark": {"type": "point", "shape": "triangle-up", "filled": true, "size": 30, "color": "#444", "opacity": 1},
 "encoding": {"x": {"field": "xe", "type": "quantitative"}, "y": {"field": "ye", "type": "quantitative"}, "angle": {"field": "angle", "type": "quantitative", "scale": null}}},
{"data": {"name": "f_lab"}, "mark": {"type": "text", "fontSize": 20, "color": "#3a3a3a", "align": "center", "baseline": "middle", "font": "Liberation Sans"},
 "encoding": {"text": {"field": "t"}}},
{"data": {"name": "f_ttl"}, "transform": [{"filter": "datum.part === 'main'"}], "mark": {"type": "text", "fontSize": 30, "color": "#000", "align": "left", "baseline": "alphabetic", "font": "Liberation Sans"},
 "encoding": {"text": {"field": "t"}}},
{"data": {"name": "f_ttl"}, "transform": [{"filter": "datum.part === 'sub'"}], "mark": {"type": "text", "fontSize": 16, "color": "#000", "align": "left", "baseline": "alphabetic", "font": "Liberation Sans"},
 "encoding": {"text": {"field": "t"}}}
]
}
]
}
